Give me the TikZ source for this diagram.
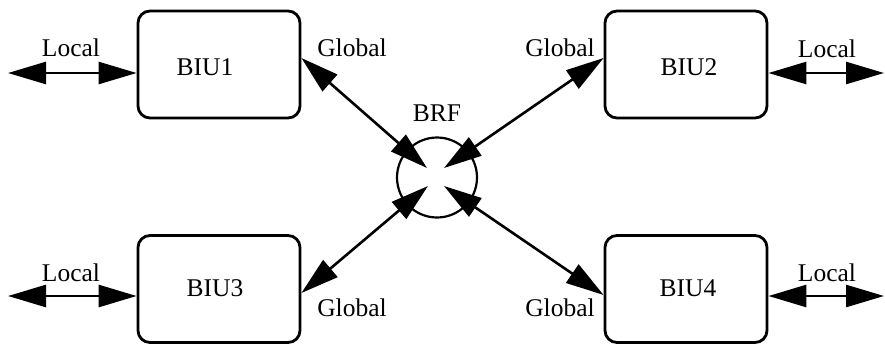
\documentclass[tikz,border=0pt]{standalone}
\usepackage{fontspec}
\setmainfont{Liberation Serif}
\usetikzlibrary{arrows.meta}
\begin{document}
\begin{tikzpicture}[x=1pt,y=-1pt,
  font=\fontsize{25.5}{30}\selectfont,
  unitbox/.style={draw,line width=2.8pt,rounded corners=12pt,minimum width=162pt,minimum height=107pt,inner sep=0pt},
  hub/.style={draw,circle,line width=2.2pt,minimum size=80pt,inner sep=0pt},
  link/.style={line width=2.6pt,{Triangle[length=38pt,width=22pt]}-{Triangle[length=38pt,width=22pt]}},
  txt/.style={inner sep=0pt}]
\useasboundingbox (0,0) rectangle (885,349);

% interface units and the central router
\node[unitbox] (b1) at (219,64.5) {};
\node[unitbox] (b2) at (686,64.5) {};
\node[unitbox] (b3) at (219,289) {};
\node[unitbox] (b4) at (686,289) {};
\node[hub] (brf) at (437,177.5) {};

\node[txt] (t1) at (205,67) {BIU1};
\node[txt] (t2) at (689,67) {BIU2};
\node[txt] (t3) at (215,288) {BIU3};
\node[txt] (t4) at (688,288) {BIU4};
\node[txt] (tbrf) at (437,113) {BRF};

% inner ends of the global links
\coordinate (h1) at (427,168);
\coordinate (h2) at (444,168);
\coordinate (h3) at (428,186);
\coordinate (h4) at (444,186);

% outer ends of the local links
\coordinate (l1) at (8,73);
\coordinate (l2) at (884,73);
\coordinate (l3) at (8,296);
\coordinate (l4) at (884,296);

% global links
\draw[link] ([yshift=6.5pt]b1.east) -- (h1);
\draw[link] ([yshift=6.5pt]b2.west) -- (h2);
\draw[link] ([yshift=-4pt]b3.east) -- (h3);
\draw[link] ([yshift=-6pt]b4.west) -- (h4);

% local links
\draw[link] (l1) -- (b1.west |- l1);
\draw[link] (b2.east |- l2) -- (l2);
\draw[link] (l3) -- (b3.west |- l3);
\draw[link] (b4.east |- l4) -- (l4);

% link labels
\node[txt] (lo1) at (71,48) {Local};
\node[txt] (lo2) at (827,49) {Local};
\node[txt] (lo3) at (71,273) {Local};
\node[txt] (lo4) at (827,273) {Local};
\node[txt] (g1) at (352,48) {Global};
\node[txt] (g2) at (560,48) {Global};
\node[txt] (g3) at (352,308) {Global};
\node[txt] (g4) at (560,308) {Global};
\end{tikzpicture}
\end{document}
